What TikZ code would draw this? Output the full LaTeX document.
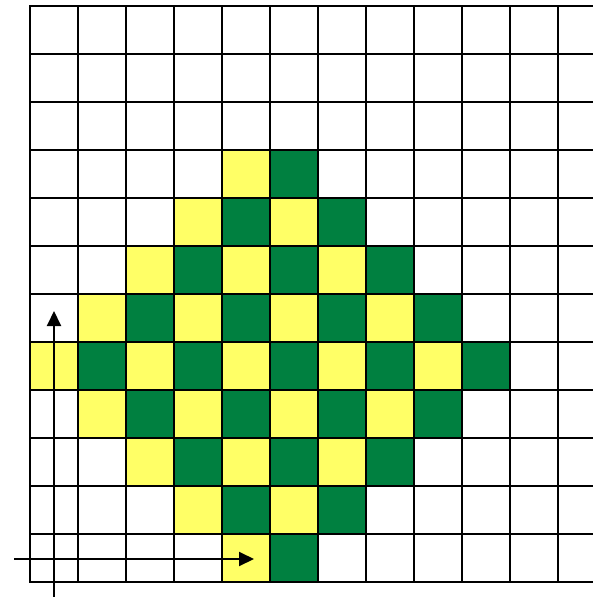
\documentclass[tikz,border=0pt]{standalone}
\usepackage{tikz}
\usetikzlibrary{arrows.meta}
\definecolor{cellyellow}{RGB}{255,255,102}
\definecolor{cellgreen}{RGB}{0,128,64}
\tikzset{
  gridline/.style={line width=2.4pt,black,line cap=rect},
  arr/.style={-{Triangle[length=15pt,width=14pt]},line width=2pt},
}
\begin{document}
\begin{tikzpicture}[x=1pt,y=-1pt]
  \useasboundingbox (0,0) rectangle (593,597);
  \clip (0,0) rectangle (593,597);
  %% Cells
  \foreach \r in {3,...,11}{
    \pgfmathtruncatemacro{\d}{abs(\r-7)}
    \pgfmathtruncatemacro{\e}{9-\d}
    \foreach \c in {\d,...,\e}{
      \pgfmathtruncatemacro{\p}{mod(\r+\c,2)}
      \ifnum\p=1 \def\col{cellyellow}\else\def\col{cellgreen}\fi
      \fill[\col] (30+48*\c,6+48*\r) rectangle ++(48,48);
    }
  }
  %% Grid
  \foreach \k in {0,...,12} \draw[gridline] (30,6+48*\k) -- (600,6+48*\k);
  \foreach \k in {0,...,12} \draw[gridline] (30+48*\k,6) -- (30+48*\k,582);
  %% Axes
  \coordinate (xstart) at (14,559);
  \coordinate (xend)   at (254,559);
  \coordinate (ystart) at (54,600);
  \coordinate (yend)   at (54,311);
  \draw[arr] (xstart) -- (xend);
  \draw[arr] (ystart) -- (yend);
\end{tikzpicture}
\end{document}
